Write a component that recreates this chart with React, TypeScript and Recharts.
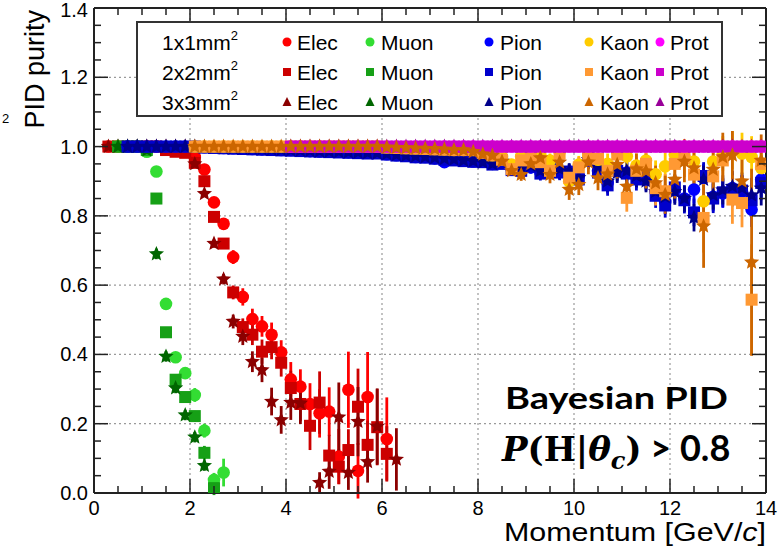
import React from "react"
import { ScatterChart, Scatter, XAxis, YAxis, CartesianGrid, ErrorBar, ReferenceLine } from "recharts"

// momentum bin centres (GeV/c)
const momentum = [
  0.3, 0.5, 0.7, 0.9, 1.1, 1.3, 1.5, 1.7, 1.9,
  2.1, 2.3, 2.5, 2.7, 2.9, 3.1, 3.3, 3.5, 3.7, 3.9,
  4.1, 4.3, 4.5, 4.7, 4.9, 5.1, 5.3, 5.5, 5.7, 5.9,
  6.1, 6.3, 6.5, 6.7, 6.9, 7.1, 7.3, 7.5, 7.7, 7.9,
  8.1, 8.3, 8.5, 8.7, 8.9, 9.1, 9.3, 9.5, 9.7, 9.9,
  10.1, 10.3, 10.5, 10.7, 10.9, 11.1, 11.3, 11.5, 11.7, 11.9,
  12.1, 12.3, 12.5, 12.7, 12.9, 13.1, 13.3, 13.5, 13.7, 13.9,
]

const xTicks = [0, 0.5, 1, 1.5, 2, 2.5, 3, 3.5, 4, 4.5, 5, 5.5, 6, 6.5, 7, 7.5, 8, 8.5, 9, 9.5, 10, 10.5, 11, 11.5, 12, 12.5, 13, 13.5, 14]
const yTicks = [0, 0.05, 0.1, 0.15, 0.2, 0.25, 0.3, 0.35, 0.4, 0.45, 0.5, 0.55, 0.6, 0.65, 0.7, 0.75, 0.8, 0.85, 0.9, 0.95, 1, 1.05, 1.1, 1.15, 1.2, 1.25, 1.3, 1.35, 1.4]
const xGrid = [2, 4, 6, 8, 10, 12]
const yGrid = [0.2, 0.4, 0.6, 0.8, 1.0, 1.2]

// electrons, from 0.3 GeV/c
const elec1 = [1, 1, 1, 1, 1, 1, 0.995, 0.99, 0.985, 0.97, 0.934, 0.839, 0.777, 0.681, 0.566, 0.502, 0.481, 0.457, 0.406, 0.328, 0.307, 0.257, 0.23, 0.235, 0.105, 0.298, 0.064, 0.277, null, 0.156, null]
const elec1Err = [0, 0, 0, 0, 0, 0, 0.005, 0.005, 0.005, 0.008, 0.01, 0.012, 0.015, 0.02, 0.025, 0.03, 0.03, 0.035, 0.035, 0.05, 0.05, 0.06, 0.07, 0.07, 0.08, 0.11, 0.08, 0.13, 0, 0.12, 0]
const elec2 = [1, 1, 1, 1, 1, 1, 0.99, 0.985, 0.982, 0.953, 0.9, 0.797, 0.72, 0.579, 0.479, 0.457, 0.408, 0.421, 0.376, 0.303, 0.257, 0.194, 0.261, 0.108, 0.076, 0.124, 0.249, 0.139, 0.19, 0.113, null]
const elec2Err = [0, 0, 0, 0, 0, 0, 0.005, 0.005, 0.005, 0.008, 0.01, 0.012, 0.015, 0.02, 0.025, 0.03, 0.035, 0.035, 0.04, 0.05, 0.05, 0.07, 0.09, 0.06, 0.05, 0.06, 0.11, 0.07, 0.11, 0.08, 0]
const elec3 = [1, 1, 1, 1, 1, 1, 1, 1, 1, 0.95, 0.864, 0.72, 0.617, 0.495, 0.452, 0.379, 0.355, 0.264, 0.211, 0.261, 0.259, null, 0.03, 0.062, 0.219, 0.059, 0.206, 0.09, 0.192, null, 0.097]
const elec3Err = [0, 0, 0, 0, 0, 0, 0, 0, 0, 0.008, 0.01, 0.012, 0.015, 0.02, 0.025, 0.03, 0.035, 0.04, 0.04, 0.05, 0.06, 0, 0.03, 0.05, 0.1, 0.05, 0.1, 0.06, 0.11, 0, 0.09]

// muons, from 0.5 GeV/c
const muon1 = [1, 1, 1, 0.985, 0.928, 0.546, 0.392, 0.346, 0.283, 0.18, 0.038, 0.059]
const muon1Err = [0, 0, 0, 0.005, 0.01, 0.015, 0.015, 0.015, 0.02, 0.02, 0.02, 0.04]
const muon2 = [1, 1, 1, 0.99, 0.85, 0.464, 0.327, 0.277, 0.222, 0.116, 0.014, null]
const muon2Err = [0, 0, 0, 0.005, 0.01, 0.015, 0.015, 0.015, 0.015, 0.02, 0.02, 0]
const muon3 = [1, 1, 1, 0.99, 0.69, 0.394, 0.303, 0.225, 0.161, 0.079, null, null]
const muon3Err = [0, 0, 0, 0.005, 0.015, 0.015, 0.015, 0.015, 0.015, 0.015, 0, 0]

// pions, from 0.7 GeV/c
const pion1 = [
  1, 1, 1, 1, 1, 1, 1, 1, 0.998, 0.997, 0.996, 0.995, 0.994, 0.993, 0.992, 0.991, 0.99,
  0.99, 0.988, 0.987, 0.986, 0.985, 0.985, 0.984, 0.983, 0.982, 0.982,
  0.978, 0.975, 0.974, 0.97, 0.97, 0.966, 0.955, 0.962, 0.96, 0.957,
  0.957, 0.95, 0.955, 0.935, 0.935, 0.94, 0.926, 0.947, 0.928, 0.925,
  0.915, 0.96, 0.93, 0.895, 0.935, 0.925, 0.912, 0.905, 0.87, 0.84,
  0.875, 0.85, 0.876, 0.91, 0.855, 0.865, 0.88, 0.87, 0.818, 0.905,
]
const pion2 = [
  1, 1, 1, 1, 1, 1, 1, 1, 0.997, 0.996, 0.995, 0.994, 0.993, 0.992, 0.991, 0.99, 0.989,
  0.988, 0.987, 0.986, 0.985, 0.984, 0.983, 0.982, 0.981, 0.98, 0.98,
  0.977, 0.974, 0.972, 0.969, 0.968, 0.965, 0.962, 0.96, 0.958, 0.956,
  0.955, 0.948, 0.95, 0.932, 0.93, 0.942, 0.922, 0.945, 0.925, 0.928,
  0.905, 0.965, 0.925, 0.888, 0.93, 0.922, 0.905, 0.91, 0.858, 0.83,
  0.882, 0.845, 0.81, 0.915, 0.85, 0.868, 0.872, 0.873, 0.845, 0.895,
]
const pion3 = [
  1, 1, 1, 1, 1, 1, 1, 1, 0.998, 0.997, 0.996, 0.995, 0.995, 0.994, 0.993, 0.992, 0.991,
  0.99, 0.989, 0.988, 0.987, 0.986, 0.985, 0.984, 0.983, 0.982, 0.981,
  0.979, 0.976, 0.974, 0.972, 0.97, 0.968, 0.965, 0.963, 0.96, 0.958,
  0.955, 0.95, 0.958, 0.94, 0.938, 0.945, 0.93, 0.95, 0.935, 0.93,
  0.91, 0.962, 0.94, 0.9, 0.925, 0.93, 0.915, 0.9, 0.87, 0.855,
  0.87, 0.85, 0.795, 0.905, 0.86, 0.875, 0.885, 0.88, 0.86, 0.88,
]
const pionErr = [
  0, 0, 0, 0, 0, 0, 0, 0, 0.003, 0.003, 0.003, 0.003, 0.003, 0.003, 0.003, 0.003, 0.003,
  0.004, 0.004, 0.004, 0.004, 0.004, 0.004, 0.004, 0.004, 0.004, 0.004,
  0.006, 0.006, 0.006, 0.006, 0.006, 0.006, 0.006, 0.006, 0.006, 0.006,
  0.01, 0.012, 0.015, 0.015, 0.018, 0.018, 0.02, 0.02, 0.022, 0.022,
  0.025, 0.025, 0.028, 0.03, 0.03, 0.03, 0.032, 0.032, 0.035, 0.035,
  0.038, 0.038, 0.04, 0.04, 0.042, 0.042, 0.045, 0.045, 0.05, 0.05,
]

// kaons, from 2.1 GeV/c
const kaon1 = [
  1, 1, 1, 1, 1, 1, 1, 1, 1, 1, 1, 1, 1, 1, 1, 1, 1, 1, 1, 1,
  0.998, 0.997, 0.996, 0.995, 0.994, 0.993, 0.992, 0.99, 0.99,
  0.99, 0.985, 0.975, 0.97, 0.948, 0.972, 0.96, 0.975, 0.96, 0.985,
  0.9, 0.948, 0.975, 0.962, 0.95, 0.985, 0.972, 0.945, 0.96, 0.92,
  0.943, 0.977, 0.97, 0.957, 0.842, 0.957, 0.98, 0.99, 0.98, 0.97, 0.938,
]
const kaon1Err = [
  0, 0, 0, 0, 0, 0, 0, 0, 0, 0, 0, 0, 0, 0, 0, 0, 0, 0, 0, 0,
  0.004, 0.004, 0.004, 0.004, 0.004, 0.004, 0.004, 0.004, 0.004,
  0.005, 0.008, 0.01, 0.012, 0.015, 0.015, 0.018, 0.02, 0.02, 0.022,
  0.025, 0.025, 0.028, 0.03, 0.03, 0.03, 0.032, 0.035, 0.035, 0.04,
  0.04, 0.04, 0.045, 0.045, 0.05, 0.05, 0.05, 0.055, 0.06, 0.06, 0.065,
]
const kaon2 = [
  1, 1, 1, 1, 1, 1, 1, 1, 1, 1, 1, 1, 1, 1, 1, 1, 1, 1, 1, 1,
  0.997, 0.996, 0.995, 0.994, 0.993, 0.992, 0.991, 0.99, 0.99,
  0.99, 0.982, 0.975, 0.962, 0.935, 0.96, 0.967, 0.955, 0.93, 0.98,
  0.91, 0.94, 0.977, 0.965, 0.93, 0.977, 0.852, 0.93, 0.95, 0.88,
  0.871, 0.95, 0.967, 0.919, 0.794, 0.914, 0.96, 0.847, 0.837, 0.558, 0.95,
]
const kaon2Err = [
  0, 0, 0, 0, 0, 0, 0, 0, 0, 0, 0, 0, 0, 0, 0, 0, 0, 0, 0, 0,
  0.004, 0.004, 0.004, 0.004, 0.004, 0.004, 0.004, 0.004, 0.004,
  0.005, 0.008, 0.01, 0.012, 0.015, 0.018, 0.02, 0.02, 0.025, 0.025,
  0.03, 0.03, 0.03, 0.035, 0.035, 0.035, 0.04, 0.04, 0.045, 0.05,
  0.05, 0.05, 0.055, 0.055, 0.1, 0.06, 0.06, 0.07, 0.07, 0.16, 0.07,
]
const kaon3 = [
  1, 1, 1, 1, 1, 1, 1, 1, 1, 1, 1, 1, 1, 1, 1, 1, 1, 1, 1, 1,
  0.998, 0.997, 0.996, 0.995, 0.994, 0.993, 0.992, 0.99, 0.99,
  0.985, 0.978, 0.974, 0.957, 0.93, 0.919, 0.95, 0.967, 0.919, 0.955,
  0.876, 0.89, 0.955, 0.909, 0.92, 0.948, 0.885, 0.935, 0.929, 0.895,
  0.861, 0.905, 0.957, 0.938, 0.77, 0.934, 0.97, 0.975, 0.9, 0.666, 0.96,
]
const kaon3Err = [
  0, 0, 0, 0, 0, 0, 0, 0, 0, 0, 0, 0, 0, 0, 0, 0, 0, 0, 0, 0,
  0.004, 0.004, 0.004, 0.004, 0.004, 0.004, 0.004, 0.004, 0.004,
  0.005, 0.008, 0.01, 0.012, 0.015, 0.018, 0.02, 0.022, 0.025, 0.028,
  0.03, 0.03, 0.035, 0.035, 0.04, 0.04, 0.045, 0.045, 0.05, 0.05,
  0.055, 0.055, 0.06, 0.06, 0.12, 0.065, 0.07, 0.07, 0.08, 0.27, 0.075,
]

// protons, from 4.1 GeV/c
const prot1 = [
  1, 1, 1, 1, 1, 1, 1, 1, 1, 1, 1, 1, 1, 1, 1, 1, 1, 1, 1, 1, 1, 1, 1, 1, 1,
  1, 1, 1, 1, 1, 1, 1, 1, 1, 1, 1, 1, 1, 1, 1, 1, 1, 1, 1, 1, 1, 1, 1, 1, 1,
]
const prot2 = [
  1, 1, 1, 1, 1, 1, 1, 1, 1, 1, 1, 1, 1, 1, 1, 1, 1, 1, 1, 1, 1, 1, 1, 1, 1,
  1, 1, 1, 1, 1, 1, 1, 1, 1, 1, 1, 1, 1, 1, 1, 1, 1, 1, 1, 1, 1, 1, 1, 1, 1,
]
const prot3 = [
  1, 1, 1, 1, 1, 1, 1, 1, 1, 1, 1, 1, 1, 1, 1, 1, 1, 1, 1, 1, 1, 1, 1, 1, 1,
  1, 1, 1, 1, 1, 1, 1, 1, 1, 1, 1, 1, 1, 1, 1, 1, 1, 1, 1, 1, 1, 1, 1, 1, 1,
]

const particles = ["Elec", "Muon", "Pion", "Kaon", "Prot"]
const pixelSizes = ["1x1mm", "2x2mm", "3x3mm"]
const colors1 = ["#ff0000", "#33dd33", "#0000ff", "#ffcc00", "#ff00ff"]
const colors2 = ["#cc0000", "#16a016", "#0000cc", "#ff9933", "#cc00cc"]
const colors3 = ["#8b0000", "#006600", "#00008b", "#cc6600", "#990099"]

// plot area in page pixels
const PL = 94
const PR = 766
const PT = 8
const PB = 493

function makePoints(start: number, ys: (number | null)[], errs?: number[]) {
  const i0 = momentum.findIndex((m) => Math.abs(m - start) < 1e-6)
  return ys
    .map((y, i) => ({ x: momentum[i0 + i], y, err: errs ? errs[i] : 0 }))
    .filter((p) => p.y !== null)
}

function starPath(cx: number, cy: number, R: number, r: number) {
  let d = ""
  for (let k = 0; k < 10; k++) {
    const rad = k % 2 === 0 ? R : r
    const a = -Math.PI / 2 + (k * Math.PI) / 5
    d += (k === 0 ? "M" : "L") + (cx + rad * Math.cos(a)).toFixed(2) + "," + (cy + rad * Math.sin(a)).toFixed(2)
  }
  return d + "Z"
}

const marker = (kind: string, color: string) => (props: any) => {
  const { cx, cy } = props
  if (kind === "circle") return <circle cx={cx} cy={cy} r={6.3} fill={color} />
  if (kind === "square") return <rect x={cx - 6} y={cy - 6} width={12} height={12} fill={color} />
  return <path d={starPath(cx, cy, 8, 3.6)} fill={color} />
}

const series = [
  { key: "e1", data: makePoints(0.3, elec1, elec1Err), color: colors1[0], kind: "circle" },
  { key: "e2", data: makePoints(0.3, elec2, elec2Err), color: colors2[0], kind: "square" },
  { key: "e3", data: makePoints(0.3, elec3, elec3Err), color: colors3[0], kind: "star" },
  { key: "m1", data: makePoints(0.5, muon1, muon1Err), color: colors1[1], kind: "circle" },
  { key: "m2", data: makePoints(0.5, muon2, muon2Err), color: colors2[1], kind: "square" },
  { key: "m3", data: makePoints(0.5, muon3, muon3Err), color: colors3[1], kind: "star" },
  { key: "p1", data: makePoints(0.7, pion1, pionErr), color: colors1[2], kind: "circle" },
  { key: "p2", data: makePoints(0.7, pion2, pionErr), color: colors2[2], kind: "square" },
  { key: "p3", data: makePoints(0.7, pion3, pionErr), color: colors3[2], kind: "star" },
  { key: "k1", data: makePoints(2.1, kaon1, kaon1Err), color: colors1[3], kind: "circle" },
  { key: "k2", data: makePoints(2.1, kaon2, kaon2Err), color: colors2[3], kind: "square" },
  { key: "r3", data: makePoints(4.1, prot3), color: colors3[4], kind: "star" },
  { key: "r1", data: makePoints(4.1, prot1), color: colors1[4], kind: "circle" },
  { key: "r2", data: makePoints(4.1, prot2), color: colors2[4], kind: "square" },
  { key: "k3", data: makePoints(2.1, kaon3, kaon3Err), color: colors3[3], kind: "star" },
]

const isMajor = (v: number, step: number) => Math.abs(v / step - Math.round(v / step)) < 1e-6

function YTick(props: any) {
  const { y, payload } = props
  const v = payload.value as number
  const major = isMajor(v, 0.2)
  const len = major ? 14 : 7
  return (
    <g>
      <line x1={PL} x2={PL + len} y1={y} y2={y} stroke="#222" strokeWidth={1.5} />
      <line x1={PR - len} x2={PR} y1={y} y2={y} stroke="#222" strokeWidth={1.5} />
      {major && (
        <text x={PL - 6} y={Math.max(y + 7, 17)} textAnchor="end" fontSize={20} fill="#000">
          {v.toFixed(1)}
        </text>
      )}
    </g>
  )
}

function XTick(props: any) {
  const { x, payload } = props
  const v = payload.value as number
  const major = isMajor(v, 2)
  const len = major ? 14 : 7
  return (
    <g>
      <line x1={x} x2={x} y1={PB} y2={PB - len} stroke="#222" strokeWidth={1.5} />
      <line x1={x} x2={x} y1={PT} y2={PT + len} stroke="#222" strokeWidth={1.5} />
      {major && (
        <text x={x} y={PB + 22} textAnchor="middle" fontSize={20} fill="#000">
          {v}
        </text>
      )}
    </g>
  )
}

const legendMarkerX = [287, 370, 489, 589, 660]
const legendTextX = [297, 381, 500, 600, 670]
const legendRowY = [42, 72, 102]

function LegendMarker({ row, cx, cy, color }: { row: number; cx: number; cy: number; color: string }) {
  if (row === 0) return <circle cx={cx} cy={cy} r={4.5} fill={color} />
  if (row === 1) return <rect x={cx - 4} y={cy - 4} width={8} height={8} fill={color} />
  return <path d={`M${cx},${cy - 5}L${cx + 4.5},${cy + 4}L${cx - 4.5},${cy + 4}Z`} fill={color} />
}

export default function App() {
  const rowColors = [colors1, colors2, colors3]
  return (
    <div style={{ position: "absolute", left: 0, top: 0, width: 781, height: 555, background: "#fff", fontFamily: "'Liberation Sans', Arial, sans-serif" }}>
      <ScatterChart width={781} height={555} margin={{ top: PT, right: 781 - PR, bottom: 22, left: 0 }}>
        <CartesianGrid
          stroke="#9a9a9a"
          strokeDasharray="2 3"
          strokeWidth={1.2}
          horizontalValues={yGrid}
          verticalValues={xGrid}
        />
        <XAxis
          type="number"
          dataKey="x"
          domain={[0, 14]}
          ticks={xTicks}
          interval={0}
          allowDataOverflow
          height={40}
          tickLine={false}
          axisLine={{ stroke: "#222", strokeWidth: 2 }}
          tick={(p: any) => <XTick {...p} />}
        />
        <YAxis
          type="number"
          dataKey="y"
          domain={[0, 1.4]}
          ticks={yTicks}
          interval={0}
          allowDataOverflow
          width={PL}
          tickLine={false}
          axisLine={{ stroke: "#222", strokeWidth: 2 }}
          tick={(p: any) => <YTick {...p} />}
        />
        <ReferenceLine y={1.4} stroke="#222" strokeWidth={2} />
        <ReferenceLine x={14} stroke="#222" strokeWidth={2} />
        {series.map((s) => (
          <Scatter key={s.key} data={s.data} fill={s.color} shape={marker(s.kind, s.color)} isAnimationActive={false}>
            <ErrorBar dataKey="err" direction="y" width={0} stroke={s.color} strokeWidth={2.8} />
          </Scatter>
        ))}
      </ScatterChart>

      <svg width={781} height={555} style={{ position: "absolute", left: 0, top: 0, pointerEvents: "none" }}>
        <text transform="translate(44,10) rotate(-90)" textAnchor="end" fontSize={27} fill="#000">
          PID purity
        </text>
        <text x={2} y={123} fontSize={13} fill="#000">2</text>
        <text x={766} y={541} textAnchor="end" fontSize={26} textLength={262} lengthAdjust="spacingAndGlyphs" fill="#000">
          Momentum [GeV/<tspan fontStyle="italic">c</tspan>]
        </text>

        <rect x={137} y={22} width={585} height={94} fill="#fff" stroke="#333" strokeWidth={2} />
        {pixelSizes.map((label, r) => (
          <g key={label}>
            <text x={162} y={legendRowY[r] + 7.5} fontSize={21} fill="#000">
              {label}
              <tspan fontSize={13} dy={-10}>2</tspan>
            </text>
            {particles.map((name, c) => (
              <g key={name}>
                <LegendMarker row={r} cx={legendMarkerX[c]} cy={legendRowY[r]} color={rowColors[r][c]} />
                <text x={legendTextX[c]} y={legendRowY[r] + 7.5} fontSize={21} fill="#000">
                  {name}
                </text>
              </g>
            ))}
          </g>
        ))}

        <text x={505} y={409} fontSize={30} fontWeight="bold" fontFamily="Lato, 'Open Sans', sans-serif" textLength={223} lengthAdjust="spacingAndGlyphs" fill="#000">
          Bayesian PID
        </text>
        <text x={502} y={461} fill="#000" fontWeight="bold">
          <tspan fontFamily="'DejaVu Serif', serif" fontStyle="italic" fontSize={34}>P</tspan>
          <tspan fontFamily="'DejaVu Serif', serif" fontSize={34}>(H|</tspan>
          <tspan fontFamily="'DejaVu Serif', serif" fontStyle="italic" fontSize={34}>θ</tspan>
          <tspan fontFamily="'DejaVu Serif', serif" fontStyle="italic" fontSize={24} dy={8}>c</tspan>
          <tspan fontFamily="'DejaVu Serif', serif" fontSize={34} dy={-8}>)</tspan>
          <tspan fontFamily="Lato, sans-serif" fontSize={36}> &gt; 0.8</tspan>
        </text>
      </svg>
    </div>
  )
}
